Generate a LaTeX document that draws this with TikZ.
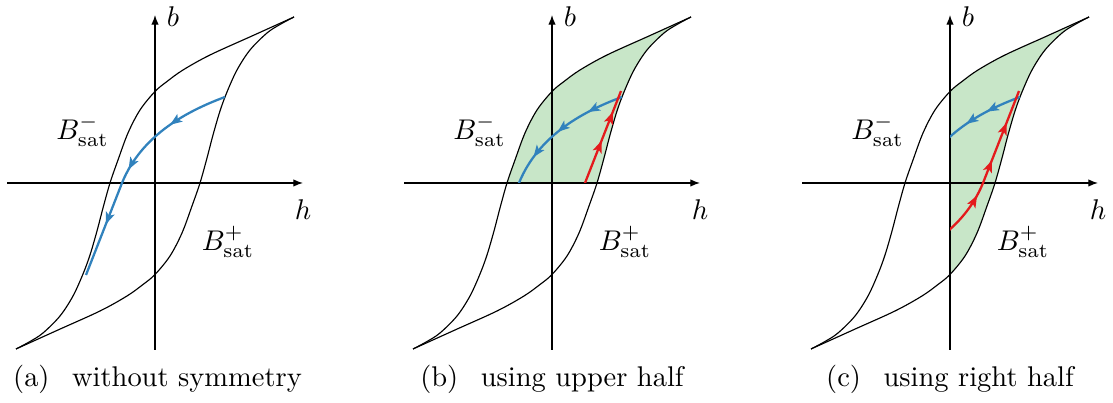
\documentclass[tikz,border=0pt]{standalone}
\usetikzlibrary{arrows.meta,decorations.markings}
\definecolor{myblue}{RGB}{49,130,189}
\definecolor{myred}{RGB}{228,26,28}
\definecolor{myfill}{RGB}{200,230,200}
\def\UpBr{plot[smooth,tension=0.55] coordinates {(139,166) (97,147) (55,128) (28,113) (12,101.5) (0,91.5) (-15,73) (-27,50) (-37,23) (-45,0) (-52,-25) (-58,-48) (-65,-72) (-72,-91) (-82,-113) (-95,-133) (-112,-150) (-125,-158.5) (-139,-166)}}
\def\LoBr{plot[smooth,tension=0.55] coordinates {(-139,-166) (-97,-147) (-55,-128) (-28,-113) (-12,-101.5) (0,-91.5) (15,-73) (27,-50) (37,-23) (45,0) (52,25) (58,48) (65,72) (72,91) (82,113) (95,133) (112,150) (125,158.5) (139,166)}}
\def\LoopFill{plot[smooth,tension=0.55] coordinates {(139,166) (97,147) (55,128) (28,113) (12,101.5) (0,91.5) (-15,73) (-27,50) (-37,23) (-45,0) (-52,-25) (-58,-48) (-65,-72) (-72,-91) (-82,-113) (-95,-133) (-112,-150) (-125,-158.5) (-139,-166)} -- plot[smooth,tension=0.55] coordinates {(-139,-166) (-97,-147) (-55,-128) (-28,-113) (-12,-101.5) (0,-91.5) (15,-73) (27,-50) (37,-23) (45,0) (52,25) (58,48) (65,72) (72,91) (82,113) (95,133) (112,150) (125,158.5) (139,166)} -- cycle}
\def\BlueP{(70,86) .. controls (35,73) and (-13,49.4) .. (-33,0) -- (-69,-92)}
\def\RedP{(-70,-86) .. controls (-35,-73) and (13,-49.4) .. (33,0) -- (69,92)}
\tikzset{
  axisline/.style={line width=0.4pt,-{Latex[length=3.4pt,width=2.6pt]}},
  branch/.style={line width=0.4pt},
  bluecurve/.style={myblue,line width=0.8pt},
  redcurve/.style={myred,line width=0.8pt},
  am/.style={postaction={decorate,decoration={markings,mark=at position #1 with {\arrow{Stealth[length=4.2pt,width=3.2pt,inset=1pt]}}}}},
  lbl/.style={inner sep=0pt},
  captxt/.style={anchor=base,inner sep=0pt}
}
\begin{document}
\begin{tikzpicture}[x=0.351pt,y=0.351pt]
\useasboundingbox (0,0) rectangle (1113,403);
% ---------- panel (a)
\begin{scope}[shift={(155,220)}]
  \draw[axisline] (-148,0) -- (148,0);
  \draw[axisline] (0,-167) -- (0,168);
  \draw[branch] \UpBr;
  \draw[branch] \LoBr;
  \draw[bluecurve, am=0.26, am=0.52, am=0.77] \BlueP;
  \node[lbl] (ba) at (18,166) {$b$};
  \node[lbl] (ha) at (148,-27) {$h$};
  \node[lbl] (bma) at (-72.5,52) {$B^-_{\mathrm{sat}}$};
  \node[lbl] (bpa) at (73,-59) {$B^+_{\mathrm{sat}}$};
\end{scope}
\node[captxt] (capa) at (157.5,16) {(a)\hspace{7.9pt}without symmetry};
% ---------- panel (b)
\begin{scope}[shift={(552,220)}]
  \begin{scope}
    \clip (-150,0) rectangle (150,170);
    \fill[myfill] \LoopFill;
  \end{scope}
  \draw[axisline] (-148,0) -- (148,0);
  \draw[axisline] (0,-167) -- (0,168);
  \draw[branch] \UpBr;
  \draw[branch] \LoBr;
  \begin{scope}
    \clip (-150,0) rectangle (150,170);
    \draw[bluecurve, am=0.157, am=0.31, am=0.458] \BlueP;
    \draw[redcurve, am=0.775, am=0.905] \RedP;
  \end{scope}
  \node[lbl] (bb) at (18,166) {$b$};
  \node[lbl] (hb) at (148,-27) {$h$};
  \node[lbl] (bmb) at (-72.5,52) {$B^-_{\mathrm{sat}}$};
  \node[lbl] (bpb) at (73,-59) {$B^+_{\mathrm{sat}}$};
\end{scope}
\node[captxt] (capb) at (552,16) {(b)\hspace{7.9pt}using upper half};
% ---------- panel (c)
\begin{scope}[shift={(950,220)}]
  \begin{scope}
    \clip (0,-170) rectangle (150,170);
    \fill[myfill] \LoopFill;
  \end{scope}
  \draw[axisline] (-148,0) -- (148,0);
  \draw[axisline] (0,-167) -- (0,168);
  \draw[branch] \UpBr;
  \draw[branch] \LoBr;
  \begin{scope}
    \clip (0,-170) rectangle (150,170);
    \draw[bluecurve, am=0.153, am=0.254] \BlueP;
    \draw[redcurve, am=0.525, am=0.686, am=0.856] \RedP;
  \end{scope}
  \node[lbl] (bc) at (18,166) {$b$};
  \node[lbl] (hc) at (148,-27) {$h$};
  \node[lbl] (bmc) at (-72.5,52) {$B^-_{\mathrm{sat}}$};
  \node[lbl] (bpc) at (73,-59) {$B^+_{\mathrm{sat}}$};
\end{scope}
\node[captxt] (capc) at (950,16) {(c)\hspace{7.9pt}using right half};
\end{tikzpicture}
\end{document}
